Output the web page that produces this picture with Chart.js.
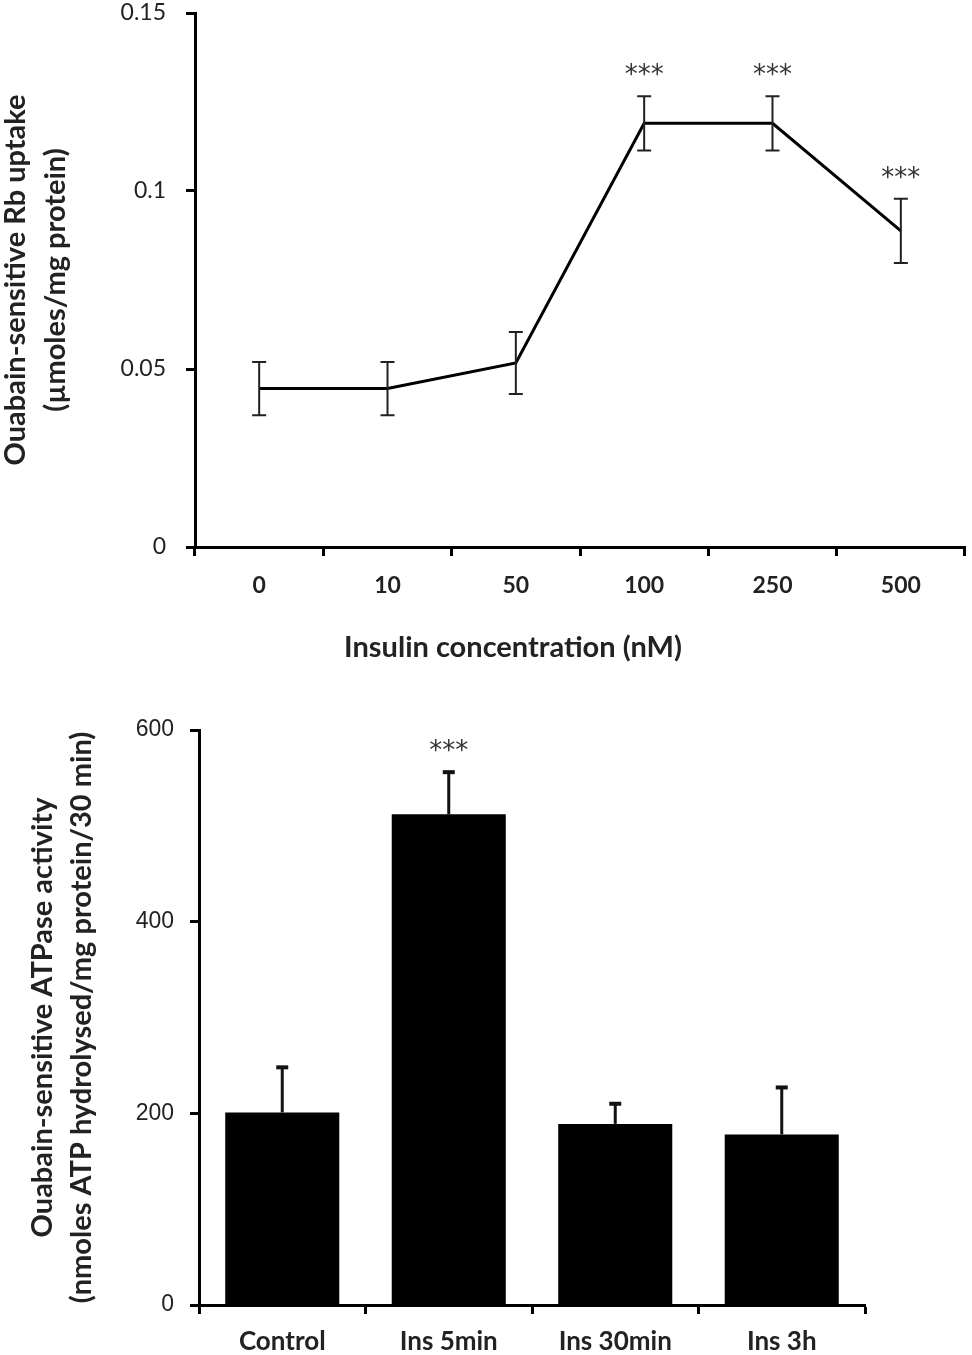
<!DOCTYPE html>
<html>
<head>
<meta charset="utf-8">
<script src="https://cdn.jsdelivr.net/npm/chart.js@4/dist/chart.umd.min.js"></script>
<style>
  body { margin: 0; background: #fff; }
  #wrap { position: relative; width: 972px; height: 1355px; }
  canvas { position: absolute; left: 0; }
  #uptakeChart { top: 0; }
  #atpaseChart { top: 680px; }
</style>
</head>
<body>
<div id="wrap">
  <canvas id="uptakeChart" width="972" height="680"></canvas>
  <canvas id="atpaseChart" width="972" height="675"></canvas>
</div>
<script>
// top panel: Rb uptake vs insulin concentration
var insulinDoses = ['0', '10', '50', '100', '250', '500'];
var rbUptake = [0.0445, 0.0445, 0.0517, 0.119, 0.119, 0.0888];
var rbUptakeErr = [0.0075, 0.0075, 0.0087, 0.0076, 0.0076, 0.009];
var rbUptakeStars = ['', '', '', '***', '***', '***'];
var rbTicks = [0, 0.05, 0.1, 0.15];

// bottom panel: ATPase activity per treatment
var treatments = ['Control', 'Ins 5min', 'Ins 30min', 'Ins 3h'];
var atpase = [201, 512, 189, 178];
var atpaseErr = [47, 44, 21, 49];
var atpaseStars = ['', '***', '', ''];
var atpaseTicks = [0, 200, 400, 600];

var TITLE_FONT = 'Lato, "Open Sans", sans-serif';

// error bars + significance stars, drawn from the y scale
var errorBars = {
  id: 'errorBars',
  afterDatasetsDraw: function (chart, args, opts) {
    var ctx = chart.ctx;
    var y = chart.scales.y;
    var meta = chart.getDatasetMeta(0);
    ctx.save();
    meta.data.forEach(function (el, i) {
      var v = opts.values[i], e = opts.errors[i];
      var top = y.getPixelForValue(v + e);
      var bot = opts.upOnly ? y.getPixelForValue(v) : y.getPixelForValue(v - e);
      ctx.strokeStyle = opts.color;
      ctx.lineWidth = opts.width;
      ctx.beginPath();
      ctx.moveTo(el.x, top);
      ctx.lineTo(el.x, bot);
      ctx.stroke();
      ctx.lineWidth = opts.capWidth;
      ctx.beginPath();
      ctx.moveTo(el.x - opts.cap, top);
      ctx.lineTo(el.x + opts.cap, top);
      if (!opts.upOnly) {
        ctx.moveTo(el.x - opts.cap, bot);
        ctx.lineTo(el.x + opts.cap, bot);
      }
      ctx.stroke();
      if (opts.stars[i]) {
        ctx.fillStyle = '#333';
        ctx.font = '26px "DejaVu Sans", sans-serif';
        ctx.textAlign = 'center';
        ctx.textBaseline = 'middle';
        ctx.fillText(opts.stars[i], el.x, top - 20);
      }
    });
    ctx.restore();
  }
};

// x-axis caption of the top panel sits left of the plot centre
var caption = {
  id: 'caption',
  afterDraw: function (chart, args, opts) {
    if (!opts.text) return;
    var ctx = chart.ctx;
    ctx.save();
    ctx.fillStyle = '#222';
    ctx.font = 'bold 29px ' + TITLE_FONT;
    ctx.textAlign = 'center';
    ctx.textBaseline = 'middle';
    ctx.fillText(opts.text, chart.chartArea.left + opts.dx, chart.chartArea.bottom + opts.dy);
    ctx.restore();
  }
};

function axisGrid() {
  return {
    drawOnChartArea: false,
    drawTicks: true,
    tickLength: 9,
    tickColor: '#000',
    tickWidth: 3,
    color: '#000'
  };
}

function noEdgePadding(s) {
  s.paddingTop = 0;
  s.paddingBottom = 0;
}

new Chart(document.getElementById('uptakeChart'), {
  type: 'line',
  data: {
    labels: insulinDoses,
    datasets: [{
      data: rbUptake,
      borderColor: '#000',
      borderWidth: 3,
      pointRadius: 0,
      tension: 0,
      fill: false
    }]
  },
  plugins: [errorBars, caption],
  options: {
    responsive: false,
    animation: false,
    layout: { padding: { top: 13, right: 7, left: 0, bottom: 0 } },
    plugins: {
      legend: { display: false },
      tooltip: { enabled: false },
      errorBars: {
        values: rbUptake, errors: rbUptakeErr, stars: rbUptakeStars,
        upOnly: false, color: '#222', width: 2, capWidth: 2, cap: 7
      },
      caption: { text: 'Insulin concentration (nM)', dx: 318, dy: 101 }
    },
    scales: {
      x: {
        offset: true,
        grid: Object.assign(axisGrid(), { offset: true }),
        border: { color: '#000', width: 3 },
        ticks: { color: '#222', padding: 16, font: { family: TITLE_FONT, size: 23, weight: 'bold' } },
        afterFit: function (s) { s.height = 133; }
      },
      y: {
        min: 0,
        max: 0.15,
        afterBuildTicks: function (s) { s.ticks = rbTicks.map(function (v) { return { value: v }; }); },
        grid: axisGrid(),
        border: { color: '#000', width: 3 },
        ticks: {
          color: '#222', padding: 20, font: { family: TITLE_FONT, size: 23 },
          callback: function (v) { return String(+v.toFixed(2)); }
        },
        title: {
          display: true,
          text: ['Ouabain-sensitive Rb uptake', '(µmoles/mg protein)'],
          color: '#222',
          font: { family: TITLE_FONT, size: 29, weight: 'bold', lineHeight: 1.38 },
          padding: { top: -4, bottom: 0 }
        },
        afterFit: function (s) { s.width = 195; noEdgePadding(s); }
      }
    }
  }
});

new Chart(document.getElementById('atpaseChart'), {
  type: 'bar',
  data: {
    labels: treatments,
    datasets: [{
      data: atpase,
      backgroundColor: '#000',
      borderWidth: 0,
      barPercentage: 0.685,
      categoryPercentage: 1
    }]
  },
  plugins: [errorBars],
  options: {
    responsive: false,
    animation: false,
    layout: { padding: { top: 50, right: 107, left: 0, bottom: 0 } },
    plugins: {
      legend: { display: false },
      tooltip: { enabled: false },
      errorBars: {
        values: atpase, errors: atpaseErr, stars: atpaseStars,
        upOnly: true, color: '#111', width: 3, capWidth: 4, cap: 6
      }
    },
    scales: {
      x: {
        grid: Object.assign(axisGrid(), { offset: true }),
        border: { color: '#000', width: 3 },
        ticks: { color: '#222', padding: 12, font: { family: TITLE_FONT, size: 26, weight: 'bold' } },
        afterFit: function (s) { s.height = 50; }
      },
      y: {
        min: 0,
        max: 600,
        afterBuildTicks: function (s) { s.ticks = atpaseTicks.map(function (v) { return { value: v }; }); },
        grid: axisGrid(),
        border: { color: '#000', width: 3 },
        ticks: { color: '#222', padding: 16, font: { family: '"Liberation Sans", Arial, sans-serif', size: 23 } },
        title: {
          display: true,
          text: ['Ouabain-sensitive ATPase activity', '(nmoles ATP hydrolysed/mg protein/30 min)'],
          color: '#222',
          font: { family: TITLE_FONT, size: 29, weight: 'bold', lineHeight: 1.35 },
          padding: { top: 23, bottom: 0 }
        },
        afterFit: function (s) { s.width = 199; noEdgePadding(s); }
      }
    }
  }
});
</script>
</body>
</html>
